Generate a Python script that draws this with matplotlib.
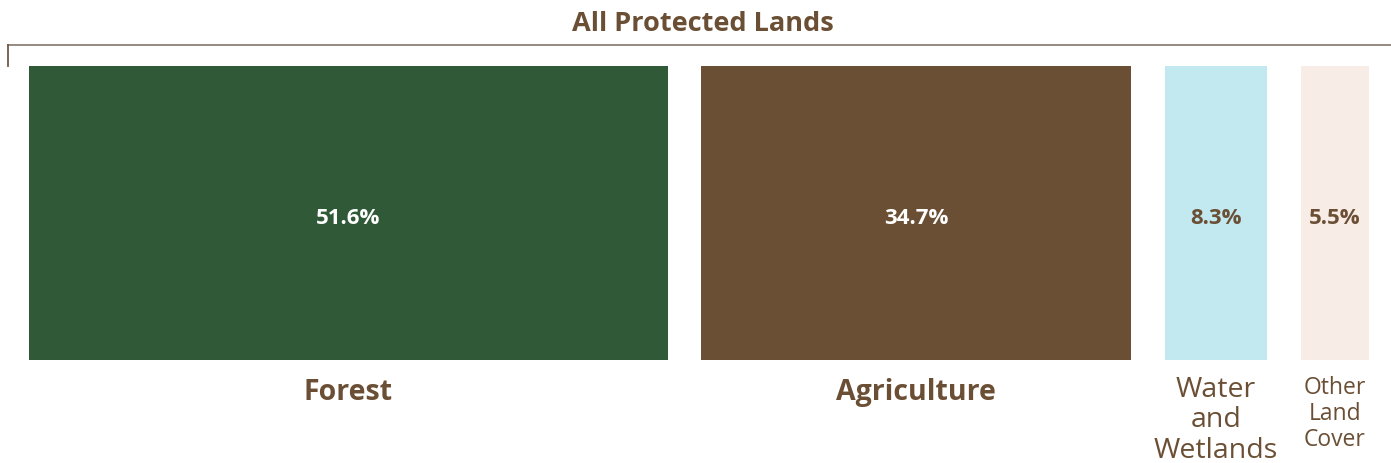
import matplotlib
matplotlib.use("Agg")
import matplotlib.pyplot as plt
from matplotlib.transforms import blended_transform_factory
from matplotlib.lines import Line2D

categories = ["Forest", "Agriculture", "Water\nand\nWetlands", "Other\nLand\nCover"]
shares = [51.6, 34.7, 8.3, 5.5]
value_labels = ["51.6%", "34.7%", "8.3%", "5.5%"]
title = "All Protected Lands"

bar_colors = ["#305937", "#6b4f35", "#c2e8f0", "#f8ece7"]
value_colors = ["white", "white", "#6b4f35", "#6b4f35"]
label_sizes = [20.5, 20.5, 20.5, 16.5]
label_weights = ["bold", "bold", "normal", "normal"]
label_spacing = [1.0, 1.0, 1.12, 1.1]
label_offsets = [-0.058, -0.058, -0.05, -0.052]
brown = "#6b4f35"
FONT = "Open Sans"

W, H = 1391, 464
fig = plt.figure(figsize=(W / 100, H / 100), dpi=100)

# bar area in pixel coordinates
left, right, top, bottom = 29, 1369, 67, 361
ax = fig.add_axes([left / W, 1 - bottom / H, (right - left) / W, (bottom - top) / H])
gap = 2.7
ax.set_xlim(0, sum(shares) + gap * (len(shares) - 1))
ax.set_ylim(0, 1)
ax.axis("off")

trans = blended_transform_factory(ax.transData, ax.transAxes)
x = 0.0
for cat, val, lab, col, vcol, ls, lw, sp, off in zip(categories, shares, value_labels, bar_colors,
                                                   value_colors, label_sizes, label_weights,
                                                   label_spacing, label_offsets):
    ax.bar(x, 1, width=val, align="edge", color=col, linewidth=0)
    cx = x + val / 2
    ax.text(cx, 0.486, lab, ha="center", va="center", color=vcol, fontsize=16,
            fontweight="bold", family=FONT)
    ax.text(cx, off, cat, ha="center", va="top", color=brown, fontsize=ls,
            fontweight=lw, family=FONT, transform=trans, linespacing=sp)
    x += val + gap

# bracket line under the title
lc = "#8c8178"
fig.add_artist(Line2D([8 / W, 1.0], [1 - 46 / H, 1 - 46 / H], color=lc, lw=1.3,
                      transform=fig.transFigure))
fig.add_artist(Line2D([8 / W, 8 / W], [1 - 46 / H, 1 - 67 / H], color="#6b5a4c", lw=1.3,
                      transform=fig.transFigure))

fig.text(703 / W, 1 - 31 / H, title, ha="center", va="baseline", color=brown,
         fontsize=19.5, fontweight="bold", family=FONT)

fig.savefig("out.png", dpi=100, facecolor="white")
